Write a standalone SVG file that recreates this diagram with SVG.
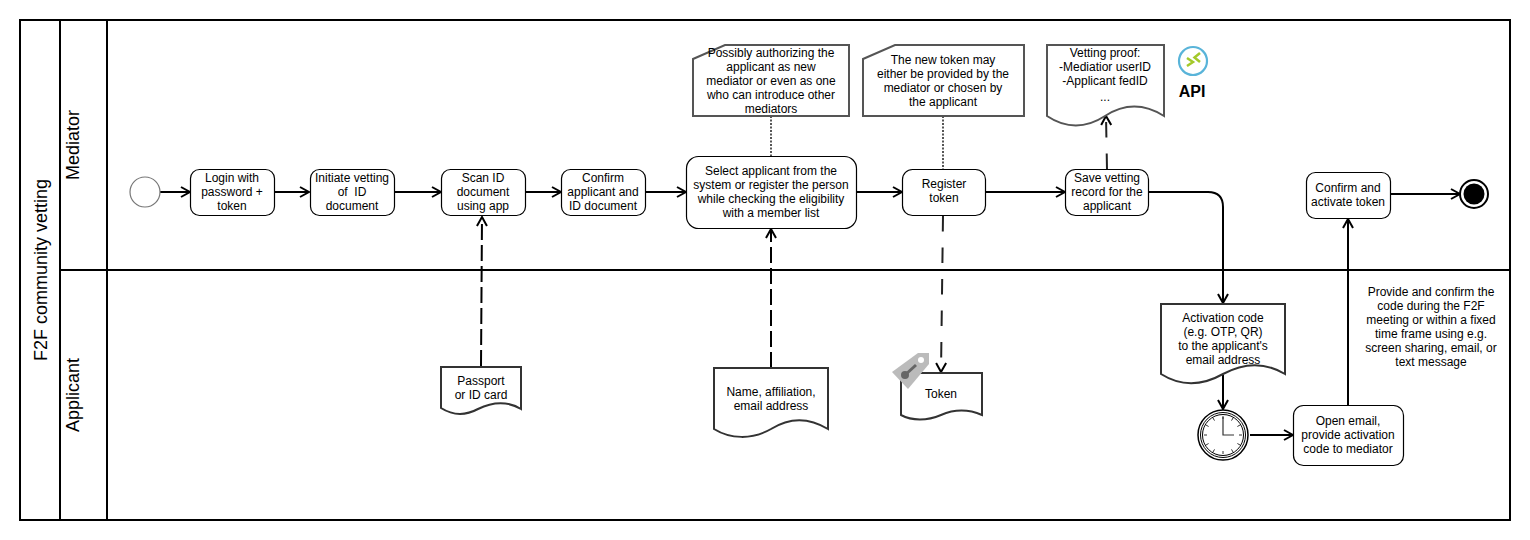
<svg xmlns="http://www.w3.org/2000/svg" width="1530" height="540" viewBox="0 0 1530 540">
<style>
text{font-family:"Liberation Sans",Arial,sans-serif;font-size:12px;fill:#000;text-anchor:middle}
.pool{fill:none;stroke:#000;stroke-width:2}
.t{fill:#fff;stroke:#000;stroke-width:1.2}
.d{fill:#fff;stroke:#333;stroke-width:2}
.n{fill:#fff;stroke:#555;stroke-width:2}
.c{fill:none;stroke:#000;stroke-width:2}
.da{stroke-dasharray:16 5}
.db{stroke-dasharray:15.500 16;stroke:#222}
.dot{fill:none;stroke:#555;stroke-width:2;stroke-dasharray:2 1.500}
.big{font-size:18px}
</style>
<defs>
<marker id="a" markerUnits="userSpaceOnUse" markerWidth="12" markerHeight="12" refX="10" refY="6" orient="auto"><path d="M1 1L10 6L1 11" fill="none" stroke="#000" stroke-width="2"/></marker>
</defs>
<rect width="1530" height="540" fill="#fff"/>
<g id="pool">
<rect class="pool" x="20" y="20" width="1490" height="500"/>
<path class="pool" d="M60 20V520M107 20V520M60 270H1510"/>
<text class="big" transform="translate(47 270) rotate(-90)">F2F community vetting</text>
<text class="big" transform="translate(79 145) rotate(-90)">Mediator</text>
<text class="big" transform="translate(79 395) rotate(-90)">Applicant</text>
</g>
<g id="connectors">
<path class="c" marker-end="url(#a)" d="M160 192H190"/>
<path class="c" marker-end="url(#a)" d="M275 192H309"/>
<path class="c" marker-end="url(#a)" d="M395 192H441"/>
<path class="c" marker-end="url(#a)" d="M526 192H561"/>
<path class="c" marker-end="url(#a)" d="M646 192H686"/>
<path class="c" marker-end="url(#a)" d="M857 192H902"/>
<path class="c" marker-end="url(#a)" d="M986 192H1065"/>
<path class="c" marker-end="url(#a)" d="M1149 192H1208Q1223 192 1223 207V303"/>
<path class="c" marker-end="url(#a)" d="M1223 375V409"/>
<path class="c" marker-end="url(#a)" d="M1250 435H1293"/>
<path class="c" marker-end="url(#a)" d="M1348 405V219"/>
<path class="c" marker-end="url(#a)" d="M1391 194H1460"/>
<path class="c da" marker-end="url(#a)" d="M481 366L482 217"/>
<path class="c da" marker-end="url(#a)" d="M771 368V229"/>
<path class="c db" marker-end="url(#a)" d="M943 216L941 372"/>
<path class="c db" marker-end="url(#a)" d="M1107 169L1106 116"/>
<path class="dot" d="M771 116V156"/>
<path class="dot" d="M943 116V169"/>
</g>
<g id="start"><circle cx="145" cy="192" r="15" fill="#fff" stroke="#777" stroke-width="1.2"/></g>
<g id="login"><rect class="t" x="190.500" y="169.500" width="84" height="46" rx="9"/><text x="232" y="182">Login with</text><text x="232" y="196">password +</text><text x="232" y="210">token</text></g>
<g id="initiate"><rect class="t" x="310.500" y="169.500" width="84" height="46" rx="9"/><text x="352" y="182">Initiate vetting</text><text x="352" y="196" style="white-space:pre">of  ID</text><text x="352" y="210">document</text></g>
<g id="scan"><rect class="t" x="441.500" y="169.500" width="84" height="46" rx="9"/><text x="483" y="182">Scan ID</text><text x="483" y="196">document</text><text x="483" y="210">using app</text></g>
<g id="confirm"><rect class="t" x="561.500" y="169.500" width="84" height="46" rx="9"/><text x="603" y="182">Confirm</text><text x="603" y="196">applicant and</text><text x="603" y="210">ID document</text></g>
<g id="select"><rect class="t" x="686.500" y="156.500" width="170" height="72" rx="12"/><text x="771" y="175">Select applicant from the</text><text x="771" y="189">system or register the person</text><text x="771" y="203">while checking the eligibility</text><text x="771" y="217">with a member list</text></g>
<g id="register"><rect class="t" x="902.500" y="169.500" width="83" height="46" rx="10"/><text x="944" y="188">Register</text><text x="944" y="202">token</text></g>
<g id="save"><rect class="t" x="1065.500" y="169.500" width="83" height="46" rx="10"/><text x="1107" y="182">Save vetting</text><text x="1107" y="196">record for the</text><text x="1107" y="210">applicant</text></g>
<g id="activate"><rect class="t" x="1306.500" y="172.500" width="84" height="46" rx="9"/><text x="1348" y="192">Confirm and</text><text x="1348" y="206">activate token</text></g>
<g id="end"><circle cx="1474" cy="194" r="14" fill="#fff" stroke="#000" stroke-width="2"/><circle cx="1474" cy="194" r="10.500" fill="#000"/></g>
<g id="note1"><path class="n" d="M693 59L725 45H849V116H693Z"/><text x="771" y="57">Possibly authorizing the</text><text x="771" y="71">applicant as new</text><text x="771" y="85">mediator or even as one</text><text x="771" y="99">who can introduce other</text><text x="771" y="113">mediators</text></g>
<g id="note2"><path class="n" d="M863 59L895 45H1024V116H863Z"/><text x="943" y="64">The new token may</text><text x="943" y="78">either be provided by the</text><text x="943" y="92">mediator or chosen by</text><text x="943" y="106">the applicant</text></g>
<g id="proof"><path class="n" d="M1047 45H1164V116C1145 104 1125 103 1105 116C1085 129 1065 128 1047 116Z"/><text x="1105" y="57">Vetting proof:</text><text x="1105" y="71">-Mediatior userID</text><text x="1105" y="85">-Applicant fedID</text><text x="1105" y="101">...</text></g>
<g id="api"><circle cx="1193" cy="61" r="14" fill="#fff" stroke="#59b4d9" stroke-width="2.200"/><path d="M1187 58L1193 62L1187 66M1200 53L1194.500 57.500L1200 62" fill="none" stroke="#a4c92a" stroke-width="2.500"/><text x="1192" y="97" style="font-size:16px;font-weight:bold">API</text></g>
<g id="passport"><path class="d" d="M441 367H521V409C506 400 490 403 478 409C465 416 452 415 441 408Z"/><text x="481" y="385">Passport</text><text x="481" y="399">or ID card</text></g>
<g id="name"><path class="d" d="M714 368H828V429C810 418 790 417 771 429C752 440 730 439 714 429Z"/><text x="771" y="396">Name, affiliation,</text><text x="771" y="410">email address</text></g>
<g id="token"><path class="d" d="M901 373H982V415C968 409 955 409 941 415C927 421 912 421 901 415Z"/><text x="941" y="398">Token</text></g>
<g id="tag"><path d="M892 372L918 353H929V364L908 389Z" fill="#bbb"/><circle cx="921" cy="360" r="3" fill="#fff"/><circle cx="905" cy="375" r="4" fill="#666"/><path d="M905 375L916 365" stroke="#666" stroke-width="3"/></g>
<g id="code"><path class="d" d="M1161 304H1285V374C1265 362 1245 362 1223 374C1200 387 1180 386 1161 374Z"/><text x="1223" y="322">Activation code</text><text x="1223" y="336">(e.g. OTP, QR)</text><text x="1223" y="350">to the applicant's</text><text x="1223" y="364">email address</text></g>
<g id="timer"><circle cx="1223" cy="435" r="25" fill="#fff" stroke="#000" stroke-width="1.500"/><circle cx="1223" cy="435" r="22.500" fill="none" stroke="#000" stroke-width="1"/><circle cx="1223" cy="435" r="20.500" fill="none" stroke="#000" stroke-width="1"/><path d="M1223 417V435H1234" fill="none" stroke="#333" stroke-width="1.200"/><path d="M1223 416v3M1223 451v3M1204 435h3M1239 435h3M1213 418l1.500 2.600M1233 418l-1.500 2.600M1206 425l2.600 1.500M1240 425l-2.600 1.500M1206 445l2.600-1.500M1240 445l-2.600-1.500M1213 452l1.500-2.600M1233 452l-1.500-2.600" stroke="#333"/></g>
<g id="open"><rect class="t" x="1293.500" y="405.500" width="110" height="60" rx="10"/><text x="1348" y="425">Open email,</text><text x="1348" y="439">provide activation</text><text x="1348" y="453">code to mediator</text></g>
<g id="provide"><text x="1431" y="296">Provide and confirm the</text><text x="1431" y="310">code during the F2F</text><text x="1431" y="324">meeting or within a fixed</text><text x="1431" y="338">time frame using e.g.</text><text x="1431" y="352">screen sharing, email, or</text><text x="1431" y="366">text message</text></g>
</svg>
